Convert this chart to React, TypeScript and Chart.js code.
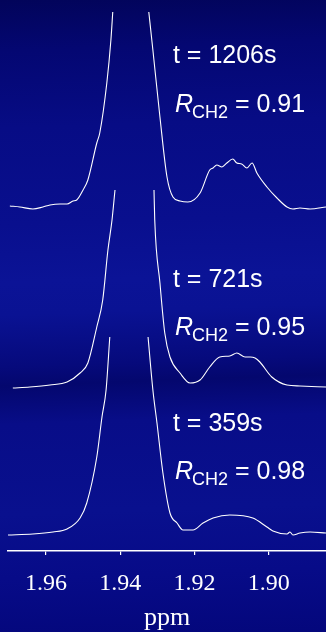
import React, { useEffect, useRef } from "react";
import { Chart, registerables } from "chart.js";

Chart.register(...registerables);

// x axis (ppm, reversed)
const PPM_MIN = 1.8846;
const PPM_MAX = 1.9702;
const TICK_VALUES = [1.96, 1.94, 1.92, 1.9];
const AXIS_TITLE = "ppm";

// Spectrum t = 1206 s (stacked, top)
const PPM_1206 = [1.9697, 1.967, 1.9635, 1.9608, 1.9589, 1.9562, 1.9543, 1.9527, 1.9517, 1.95, 1.9487, 1.9463, 1.9455, 1.9436, 1.9425, 1.942, 1.9371, 1.9323, 1.9312, 1.9293, 1.9274, 1.9258, 1.9239, 1.9218, 1.9185, 1.9159, 1.915, 1.914, 1.9126, 1.9113, 1.9097, 1.9086, 1.9073, 1.9059, 1.9045, 1.9032, 1.9005, 1.8978, 1.8951, 1.8935, 1.8916, 1.8889, 1.8846];
const INT_1206 = [345, 344, 342, 344, 346, 347, 347, 350, 351, 361, 371, 408, 418, 468, 511, 539, null, 539, 501, 434, 374, 354, 350, 349, 358, 381, 383, 386, 384, 388, 392, 388, 387, 383, 388, 378, 364, 353, 344, 342, 343, 342, 344];

// Spectrum t = 721 s (middle)
const PPM_721 = [1.9689, 1.9643, 1.9589, 1.9543, 1.9508, 1.9487, 1.9463, 1.9447, 1.9433, 1.9422, 1.9414, 1.9365, 1.9309, 1.9307, 1.9293, 1.928, 1.9266, 1.9239, 1.9212, 1.9185, 1.9159, 1.9132, 1.9105, 1.9086, 1.9064, 1.905, 1.9037, 1.9024, 1.8992, 1.8951, 1.8916, 1.8846];
const INT_721 = [163, 164, 166, 169, 178, 188, 224, 251, 301, 331, 361, null, 361, 331, 268, 218, 194, 178, 168, 171, 184, 194, 195, 198, 194, 194, 193, 189, 174, 166, 165, 164];

// Spectrum t = 359 s (bottom)
const PPM_359 = [1.9702, 1.9635, 1.9581, 1.9543, 1.9508, 1.949, 1.9463, 1.9449, 1.9438, 1.9428, 1.9377, 1.9325, 1.9312, 1.9301, 1.9285, 1.9266, 1.9247, 1.9231, 1.9204, 1.9177, 1.915, 1.9105, 1.9043, 1.9005, 1.8989, 1.8951, 1.8943, 1.8935, 1.8916, 1.8889, 1.8846];
const INT_359 = [16, 17, 19, 22, 33, 48, 94, 134, 161, 214, null, 214, 161, 128, 78, 38, 28, 21, 21, 28, 33, 36, 33, 24, 20, 17, 19, 16, 18, 19, 18];

// Annotations
const LABEL_TIMES = ["t = 1206s", "t = 721s", "t = 359s"];
const LABEL_R = ["0.91", "0.95", "0.98"];
const LABEL_PPM = [1.9258, 1.9258, 1.9258];
const LABEL_T_Y = [488, 264, 120];
const LABEL_R_Y = [439, 216, 72];

const Y_MAX = 551;

function toPoints(xs: number[], ys: (number | null)[]) {
  return xs.map((x, i) => ({ x, y: ys[i] }));
}

const labelPlugin = {
  id: "spectrumLabels",
  afterDatasetsDraw(chart: any) {
    const { ctx, scales } = chart;
    ctx.save();
    ctx.fillStyle = "#ffffff";
    ctx.textBaseline = "alphabetic";
    ctx.textAlign = "left";
    const sans = '"Liberation Sans", Arial, sans-serif';
    for (let i = 0; i < LABEL_TIMES.length; i++) {
      const x = scales.x.getPixelForValue(LABEL_PPM[i]);
      const yt = scales.y.getPixelForValue(LABEL_T_Y[i]);
      const yr = scales.y.getPixelForValue(LABEL_R_Y[i]);
      ctx.font = `25px ${sans}`;
      ctx.fillText(LABEL_TIMES[i], x, yt);
      let cx = x + 2;
      ctx.font = `italic 25px ${sans}`;
      ctx.fillText("R", cx, yr);
      cx += ctx.measureText("R").width - 1;
      ctx.font = `18px ${sans}`;
      ctx.fillText("CH2", cx, yr + 6);
      cx += ctx.measureText("CH2").width;
      ctx.font = `25px ${sans}`;
      ctx.fillText(" = " + LABEL_R[i], cx, yr);
    }
    ctx.restore();
  },
};

export default function App() {
  const canvasRef = useRef<HTMLCanvasElement | null>(null);

  useEffect(() => {
    if (!canvasRef.current) return;
    const lineStyle = {
      borderColor: "#ffffff",
      borderWidth: 1.1,
      pointRadius: 0,
      fill: false,
      spanGaps: false,
      cubicInterpolationMode: "monotone" as const,
    };
    const chart = new Chart(canvasRef.current, {
      type: "line",
      data: {
        datasets: [
          { label: "t = 1206s", data: toPoints(PPM_1206, INT_1206), ...lineStyle },
          { label: "t = 721s", data: toPoints(PPM_721, INT_721), ...lineStyle },
          { label: "t = 359s", data: toPoints(PPM_359, INT_359), ...lineStyle },
        ],
      },
      options: {
        animation: false,
        responsive: false,
        maintainAspectRatio: false,
        layout: { padding: { left: 8, right: 0, top: 0, bottom: 0 } },
        plugins: { legend: { display: false }, tooltip: { enabled: false } },
        scales: {
          x: {
            type: "linear",
            reverse: true,
            min: PPM_MIN,
            max: PPM_MAX,
            afterBuildTicks: (scale: any) => {
              scale.ticks = TICK_VALUES.map((v) => ({ value: v }));
            },
            afterFit: (scale: any) => {
              scale.height = 81;
            },
            border: { display: true, color: "#ffffff", width: 1.5 },
            grid: {
              drawOnChartArea: false,
              drawTicks: true,
              tickLength: 4,
              color: "#ffffff",
              lineWidth: 1.2,
            },
            ticks: {
              color: "#ffffff",
              padding: 14,
              maxRotation: 0,
              autoSkip: false,
              font: { family: '"Liberation Serif", "Times New Roman", serif', size: 24 },
              callback: (v: any) => Number(v).toFixed(2),
            },
            title: {
              display: true,
              text: AXIS_TITLE,
              color: "#ffffff",
              padding: { top: 0, bottom: -2 },
              font: { family: '"Liberation Serif", "Times New Roman", serif', size: 26 },
            },
          },
          y: { display: false, min: 0, max: Y_MAX },
        },
      },
      plugins: [labelPlugin],
    });
    return () => chart.destroy();
  }, []);

  return (
    <div
      style={{
        position: "absolute",
        left: 0,
        top: 0,
        width: 326,
        height: 632,
        overflow: "hidden",
        background:
          "linear-gradient(178deg, #02045a 0%, #040772 8%, #070c85 20%, #090f8e 35%, #0b1396 44%, #0a1293 49%, #060a7c 57%, #04076e 60%, #080d88 66%, #09108e 80%, #070b88 90%, #04077c 100%)",
      }}
    >
      <canvas ref={canvasRef} width={326} height={632} style={{ display: "block" }} />
    </div>
  );
}
